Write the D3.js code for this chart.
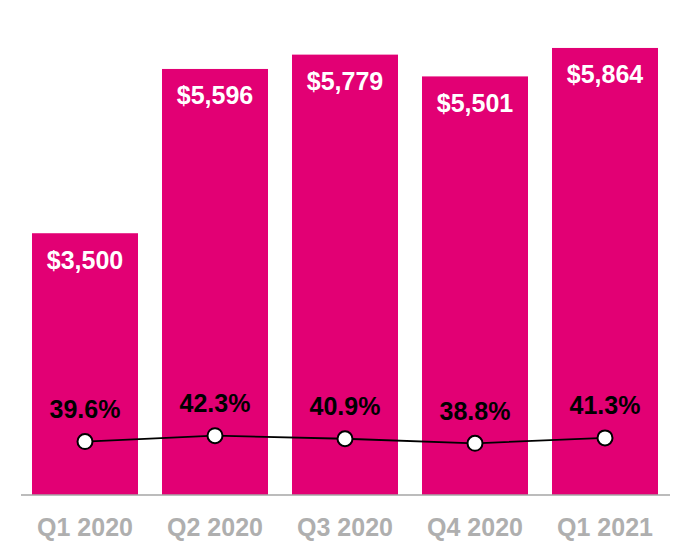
<!DOCTYPE html>
<html>
<head>
<meta charset="utf-8">
<script src="https://cdn.jsdelivr.net/npm/d3@7"></script>
<style>
  body { margin: 0; background: #fff; }
  text { font-family: "Liberation Sans", Arial, sans-serif; font-weight: bold; }
</style>
</head>
<body>
<script>
var quarters = ['Q1 2020', 'Q2 2020', 'Q3 2020', 'Q4 2020', 'Q1 2021'];
var revenue = [3500, 5596, 5779, 5501, 5864];
var margin = [39.6, 42.3, 40.9, 38.8, 41.3];

var magenta = '#E20074';
var grey = '#AFAFAF';

var svg = d3.select('body').append('svg')
  .attr('width', 690)
  .attr('height', 560);

var x = d3.scaleBand()
  .domain(quarters)
  .range([32, 658])
  .paddingInner(24 / 130)
  .paddingOuter(0);

var y = d3.scaleLinear()
  .domain([160, 6000])
  .range([495, 37.3]);

var y2 = d3.scaleLinear()
  .domain([0, 100])
  .range([527.5, 310.5]);

var data = quarters.map(function(q, i) {
  return { q: q, rev: revenue[i], pct: margin[i] };
});

svg.selectAll('rect.bar')
  .data(data)
  .enter()
  .append('rect')
  .attr('class', 'bar')
  .attr('x', function(d) { return x(d.q); })
  .attr('y', function(d) { return y(d.rev); })
  .attr('width', x.bandwidth())
  .attr('height', function(d) { return y(160) - y(d.rev); })
  .attr('fill', magenta);

svg.selectAll('text.val')
  .data(data)
  .enter()
  .append('text')
  .attr('class', 'val')
  .attr('x', function(d) { return x(d.q) + x.bandwidth() / 2; })
  .attr('y', function(d) { return y(d.rev) + 35.5; })
  .attr('text-anchor', 'middle')
  .attr('font-size', '25px')
  .attr('fill', '#fff')
  .text(function(d) { return '$' + d3.format(',')(d.rev); });

// axis baseline
svg.append('line')
  .attr('x1', 21).attr('x2', 670)
  .attr('y1', 495).attr('y2', 495)
  .attr('stroke', '#A6A6A6')
  .attr('stroke-width', 1.5);

var xAxis = svg.append('g')
  .attr('transform', 'translate(0,495)')
  .call(d3.axisBottom(x).tickSize(0).tickPadding(41));
xAxis.select('.domain').remove();
xAxis.selectAll('text')
  .attr('font-size', '25px')
  .attr('font-family', '"Liberation Sans", Arial, sans-serif')
  .attr('font-weight', 'bold')
  .attr('fill', grey)
  .attr('dy', 0);

var line = d3.line()
  .x(function(d) { return x(d.q) + x.bandwidth() / 2; })
  .y(function(d) { return y2(d.pct); });

svg.append('path')
  .datum(data)
  .attr('d', line)
  .attr('fill', 'none')
  .attr('stroke', '#000')
  .attr('stroke-width', 1.8);

svg.selectAll('circle.pt')
  .data(data)
  .enter()
  .append('circle')
  .attr('class', 'pt')
  .attr('cx', function(d) { return x(d.q) + x.bandwidth() / 2; })
  .attr('cy', function(d) { return y2(d.pct); })
  .attr('r', 7.5)
  .attr('fill', '#fff')
  .attr('stroke', '#000')
  .attr('stroke-width', 2);

svg.selectAll('text.pct')
  .data(data)
  .enter()
  .append('text')
  .attr('class', 'pct')
  .attr('x', function(d) { return x(d.q) + x.bandwidth() / 2; })
  .attr('y', function(d) { return y2(d.pct) - 23.4; })
  .attr('text-anchor', 'middle')
  .attr('font-size', '25px')
  .attr('fill', '#000')
  .text(function(d) { return d.pct.toFixed(1) + '%'; });
</script>
</body>
</html>
